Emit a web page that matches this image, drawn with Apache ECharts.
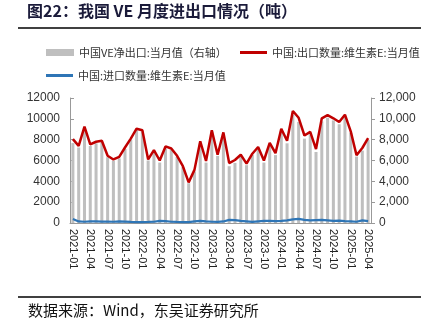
<!DOCTYPE html>
<html><head><meta charset="utf-8">
<script src="https://cdn.jsdelivr.net/npm/echarts@6/dist/echarts.min.js"></script>
<style>html,body{margin:0;padding:0;background:#fff}#c{width:431px;height:334px}</style>
</head><body><div id="c"></div>
<script>
var categories = [];
(function(){for(var y=2021;y<=2025;y++){for(var m=1;m<=12;m++){if(y===2025&&m>4)break;categories.push(y+'-'+(m<10?'0'+m:m));}}})();
var exportVals = [8050,7400,9250,7550,7800,7900,6450,6100,6350,7250,8100,9050,
  8900,6100,7000,6000,7350,7150,6450,5450,3900,5100,7850,5950,
  8900,6550,8700,5750,6050,6550,5700,6650,7300,6000,7700,6700,
  9050,7900,10750,10100,8400,8750,7100,10050,10350,10050,9700,10400,
  8800,6500,7200,8150];
var importVals = [380,150,120,160,150,140,130,120,150,130,100,80,
  90,100,120,200,180,120,100,90,80,150,200,150,
  120,110,150,300,280,200,150,100,150,200,200,180,
  200,250,350,400,300,250,280,300,250,200,220,180,
  150,120,250,180];
var netVals = [7670,7250,9130,7390,7650,7760,6320,5980,6200,7120,8000,8970,
  8810,6000,6880,5800,7170,7030,6350,5360,3820,4950,7650,5800,
  8780,6440,8550,5450,5770,6350,5550,6550,7150,5800,7500,6520,
  8850,7650,10400,9700,8100,8500,6820,9750,10100,9850,9480,10220,
  8650,6380,6950,7970];
var yTicks = [0,2000,4000,6000,8000,10000,12000];
var names = ['中国VE净出口:当月值（右轴）','中国:出口数量:维生素E:当月值','中国:进口数量:维生素E:当月值'];

var chart = echarts.init(document.getElementById('c'), null, {renderer:'canvas'});
var fontCN = '"Noto Sans CJK SC","Microsoft YaHei",sans-serif';
var axisFont = {fontFamily:'"Liberation Sans",Arial,sans-serif', fontSize:12, color:'#333'};
chart.setOption({
  animation:false,
  backgroundColor:'#fff',
  graphic:[
    {type:'text', left:27, top:3, style:{text:'图22：我国 VE 月度进出口情况（吨）', font:'bold 16px "Noto Sans CJK SC", serif', fill:'#1b1b3a'}},
    {type:'line', shape:{x1:18,y1:28,x2:421,y2:28}, style:{stroke:'#000', lineWidth:1.5}},
    {type:'line', shape:{x1:18,y1:297,x2:421,y2:297}, style:{stroke:'#000', lineWidth:1.5}},
    {type:'text', left:28, top:303, style:{text:'数据来源：Wind，东吴证券研究所', font:'15px "Noto Sans CJK SC", serif', fill:'#111'}}
  ],
  legend:[
    {data:[names[0]], left:41, top:42, icon:'rect', itemWidth:28, itemHeight:7, itemGap:4, textStyle:{fontSize:11, fontFamily:fontCN, color:'#333'}},
    {data:[names[1]], left:235, top:42, icon:'rect', itemWidth:27, itemHeight:3, textStyle:{fontSize:11, fontFamily:fontCN, color:'#333'}},
    {data:[names[2]], left:41, top:65, icon:'rect', itemWidth:27, itemHeight:3, textStyle:{fontSize:11, fontFamily:fontCN, color:'#333'}}
  ],
  grid:{left:70, right:60, top:98, bottom:111},
  xAxis:{type:'category', data:categories, boundaryGap:true,
    axisLine:{lineStyle:{color:'#999'}}, axisTick:{show:false},
    axisLabel:{interval:2, rotate:-90, fontSize:11, color:'#222', fontFamily:'"Liberation Sans",Arial,sans-serif', margin:6}},
  yAxis:[
    {type:'value', min:0, max:12000, interval:2000, position:'left',
     axisLine:{show:true, lineStyle:{color:'#999'}}, axisTick:{show:true, inside:true, length:4, lineStyle:{color:'#999'}},
     splitLine:{show:false}, axisLabel:Object.assign({margin:10, formatter:function(v){return String(v);}}, axisFont)},
    {type:'value', min:0, max:12000, interval:2000, position:'right',
     axisLine:{show:true, lineStyle:{color:'#999'}}, axisTick:{show:true, length:4, lineStyle:{color:'#999'}},
     splitLine:{show:false}, axisLabel:Object.assign({margin:8, formatter:function(v){return v.toLocaleString('en-US');}}, axisFont)}
  ],
  series:[
    {name:names[0], type:'bar', yAxisIndex:1, data:netVals, barWidth:'52%', itemStyle:{color:'#BFBFBF'}},
    {name:names[1], type:'line', yAxisIndex:0, data:exportVals, symbol:'none', lineStyle:{color:'#C00000', width:2.5}, itemStyle:{color:'#C00000'}},
    {name:names[2], type:'line', yAxisIndex:0, data:importVals, symbol:'none', lineStyle:{color:'#2E75B6', width:2.2}, itemStyle:{color:'#2E75B6'}}
  ]
});
</script></body></html>
